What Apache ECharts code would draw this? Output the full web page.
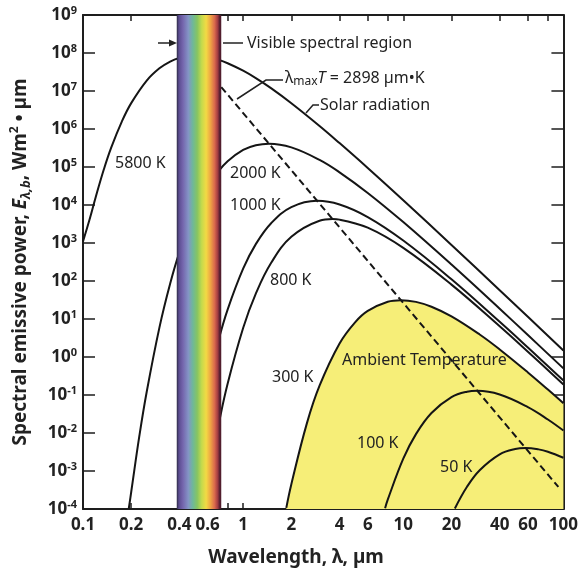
<!DOCTYPE html>
<html><head><meta charset="utf-8">
<script src="https://cdn.jsdelivr.net/npm/echarts@6/dist/echarts.min.js"></script>
<style>html,body{margin:0;padding:0;background:#fff}#c{width:581px;height:575px}</style>
</head><body><div id="c"></div>
<script>
// ---- data (wavelength in µm, spectral emissive power in W/m²·µm) ----
const xLabelValues = [0.1, 0.2, 0.4, 0.6, 1, 2, 4, 6, 10, 20, 40, 60, 100];
const xTickValues = [0.2, 0.4, 0.6, 0.8, 1, 2, 4, 6, 8, 10, 20, 40, 60, 80];
const yTickValues = [1e-4, 1e-3, 1e-2, 1e-1, 1, 1e1, 1e2, 1e3, 1e4, 1e5, 1e6, 1e7, 1e8, 1e9];
const visibleBand = [0.385, 0.73];
const curve5800K = [[0.1,1.1e3],[0.11,4.2e3],[0.12,1.6e4],[0.135,8.7e4],[0.15,3.24e5],[0.175,1.59e6],[0.2,4.8e6],[0.25,1.88e7],[0.3,3.95e7],[0.35,5.96e7],[0.4,7.42e7],[0.5,8.44e7],[0.6,7.83e7],[0.7,6.63e7],[0.8,5.38e7],[1,3.42e7],[1.2,2.18e7],[1.5,1.17e7],[2,4.76e6],[3,1.2e6],[4,4.25e5],[6,9.4e4],[10,1.33e4],[20,886],[40,57.1],[60,11.4],[100,1.49]];
const curve2000K = [[0.193,1.0e-4],[0.2,2.8e-4],[0.225,8.5e-3],[0.25,0.122],[0.3,5.93],[0.35,84.4],[0.4,565],[0.5,6.76e3],[0.6,2.99e4],[0.7,7.66e4],[0.8,1.42e5],[1,2.81e5],[1.2,3.75e5],[1.45,4.12e5],[2,3.29e5],[3,1.54e5],[4,7.25e4],[6,2.08e4],[10,3.55e3],[20,270],[40,18.6],[60,3.78],[100,0.502]];
const curve1000K = [[0.44,1.4e-4],[0.5,3.81e-3],[0.6,0.185],[0.7,2.64],[0.8,17.7],[1,211],[1.2,933],[1.5,3.36e3],[2,8.78e3],[2.9,1.29e4],[4,1.03e4],[6,4.81e3],[10,1.16e3],[20,111],[40,8.44],[60,1.78],[100,0.242]];
const curve800K = [[0.6,4.62e-4],[0.65,3.1e-3],[0.7,0.0155],[0.8,0.197],[1,5.78],[1.2,46.5],[1.5,306],[2,1.45e3],[3,3.84e3],[3.62,4.25e3],[4,4.12e3],[6,2.53e3],[10,743],[20,80.2],[40,6.44],[60,1.38],[100,0.19]];
const curve300K = [[1.86,1.07e-4],[2,4.5e-4],[2.5,0.0179],[3,0.176],[4,2.27],[5,8.17],[6,16.3],[8,28.5],[9.66,31.3],[12,28.2],[15,21.0],[20,11.7],[30,3.9],[40,1.58],[60,0.393],[80,0.139],[100,0.0607]];
const curve100K = [[7.7,1.05e-4],[8,1.77e-4],[10,2.11e-3],[12,9.33e-3],[15,0.0336],[20,0.0878],[25,0.122],[29,0.129],[40,0.103],[60,0.0481],[80,0.0227],[100,0.0116]];
const curve50K = [[21,1.03e-4],[25,3.84e-4],[30,1.05e-3],[40,2.75e-3],[50,3.8e-3],[58,4.02e-3],[70,3.71e-3],[80,3.22e-3],[100,2.23e-3]];
const wienLine = [[0.73,1.27e7],[93,3.8e-4]];

const FONT = '"Noto Sans", "DejaVu Sans", sans-serif';
const INK = '#1e1e1e';
const chart = echarts.init(document.getElementById('c'), null, {renderer: 'canvas'});

function curve(name, data, extra) {
  return Object.assign({
    name, type: 'line', data, smooth: 0.4, symbol: 'none', z: 3,
    lineStyle: {color: '#151515', width: 2}, silent: true, animation: false
  }, extra || {});
}

const bandColors = [
  [0.00, '#2c2a44'], [0.05, '#5b4c90'], [0.14, '#7566ae'], [0.26, '#8494c6'],
  [0.36, '#6eb89a'], [0.46, '#86c462'], [0.56, '#c4da4c'], [0.66, '#f2da44'],
  [0.76, '#eea444'], [0.85, '#da6a4c'], [0.92, '#a23c42'], [0.96, '#5c2232'], [1.00, '#4a1a2a']
];

const option = {
  animation: false,
  backgroundColor: '#fff',
  grid: {left: 83, right: 13, top: 15, bottom: 66},
  xAxis: [{
    type: 'log', logBase: 10, min: 0.1, max: 100, position: 'bottom',
    axisLine: {show: true, onZero: false, lineStyle: {color: INK, width: 2}},
    axisTick: {show: true, inside: true, length: 6, customValues: xTickValues, lineStyle: {color: INK, width: 1.5}},
    minorTick: {show: false},
    axisLabel: {customValues: xLabelValues, formatter: v => String(v), margin: 8,
      fontSize: 17, fontWeight: 'bold', fontFamily: FONT, color: '#222'},
    splitLine: {show: false}
  }, {
    type: 'log', logBase: 10, min: 0.1, max: 100, position: 'top',
    axisLine: {show: true, onZero: false, lineStyle: {color: INK, width: 2}},
    axisTick: {show: true, inside: true, length: 6, customValues: xTickValues, lineStyle: {color: INK, width: 1.5}},
    axisLabel: {show: false}, splitLine: {show: false}
  }],
  yAxis: [{
    type: 'log', logBase: 10, min: 1e-4, max: 1e9, position: 'left',
    axisLine: {show: true, onZero: false, lineStyle: {color: INK, width: 2}},
    axisTick: {show: true, inside: true, length: 12, customValues: yTickValues, lineStyle: {color: INK, width: 1.5}},
    axisLabel: {
      customValues: yTickValues, margin: 6,
      formatter: v => '{b|10}{s|' + Math.round(Math.log10(v)) + '}',
      rich: {
        b: {fontSize: 17, fontWeight: 'bold', fontFamily: FONT, color: '#222', lineHeight: 20},
        s: {fontSize: 11, fontWeight: 'bold', fontFamily: FONT, color: '#222', lineHeight: 13, verticalAlign: 'top'}
      }
    },
    splitLine: {show: false}
  }, {
    type: 'log', logBase: 10, min: 1e-4, max: 1e9, position: 'right',
    axisLine: {show: true, onZero: false, lineStyle: {color: INK, width: 2}},
    axisTick: {show: true, inside: true, length: 12, customValues: yTickValues, lineStyle: {color: INK, width: 1.5}},
    axisLabel: {show: false}, splitLine: {show: false}
  }],
  series: [
    curve('300 K', curve300K, {z: 2, areaStyle: {color: '#f6ee78', opacity: 1, origin: 'start'}}),
    curve('5800 K', curve5800K),
    curve('2000 K', curve2000K),
    curve('1000 K', curve1000K),
    curve('800 K', curve800K),
    curve('100 K', curve100K),
    curve('50 K', curve50K),
    {name: 'Wien', type: 'line', data: wienLine, symbol: 'none', z: 3, silent: true,
     lineStyle: {color: '#151515', width: 2, type: [7, 4]}},
    {
      name: 'Visible', type: 'custom', z: 5, silent: true,
      data: [visibleBand], encode: {x: [0, 1]},
      renderItem(params, api) {
        const x0 = api.coord([api.value(0), 1])[0];
        const x1 = api.coord([api.value(1), 1])[0];
        const cs = params.coordSys;
        return {
          type: 'rect',
          shape: {x: x0, y: cs.y, width: x1 - x0, height: cs.height},
          style: {fill: new echarts.graphic.LinearGradient(0, 0, 1, 0,
            bandColors.map(c => ({offset: c[0], color: c[1]})))}
        };
      }
    }
  ],
  graphic: [
    {type: 'line', shape: {x1: 158, y1: 43, x2: 171, y2: 43}, style: {stroke: '#222', lineWidth: 1.5}, z: 10},
    {type: 'polygon', shape: {points: [[177, 43], [169, 39.5], [169, 46.5]]}, style: {fill: '#222'}, z: 10},
    {type: 'line', shape: {x1: 223, y1: 43, x2: 243, y2: 43}, style: {stroke: '#222', lineWidth: 1.5}, z: 10},
    {type: 'polyline', shape: {points: [[237, 99], [266, 80], [283, 80]]}, style: {stroke: '#222', lineWidth: 1.5, fill: null}, z: 10},
    {type: 'polyline', shape: {points: [[306, 113], [313, 105], [319, 105]]}, style: {stroke: '#222', lineWidth: 1.5, fill: null}, z: 10},
    {type: 'text', x: 247, y: 43, z: 10, style: {text: 'Visible spectral region', fontSize: 16, fontFamily: FONT, fill: '#222', verticalAlign: 'middle'}},
    {type: 'text', x: 285, y: 78, z: 10, style: {
      text: '{n|λ}{sub|max}{it|T}{n| = 2898 µm•K}', verticalAlign: 'middle', fill: '#222',
      rich: {
        n: {fontSize: 16, fontFamily: FONT, color: '#222', lineHeight: 20},
        sub: {fontSize: 12, fontFamily: FONT, color: '#222', lineHeight: 12, verticalAlign: 'bottom'},
        it: {fontSize: 16, fontFamily: FONT, fontStyle: 'italic', color: '#222', lineHeight: 20}
      }}},
    {type: 'text', x: 320, y: 105, z: 10, style: {text: 'Solar radiation', fontSize: 16, fontFamily: FONT, fill: '#222', verticalAlign: 'middle'}},
    {type: 'text', x: 115, y: 163, z: 10, style: {text: '5800 K', fontSize: 16, fontFamily: FONT, fill: '#222', verticalAlign: 'middle'}},
    {type: 'text', x: 230, y: 173, z: 10, style: {text: '2000 K', fontSize: 16, fontFamily: FONT, fill: '#222', verticalAlign: 'middle'}},
    {type: 'text', x: 230, y: 205, z: 10, style: {text: '1000 K', fontSize: 16, fontFamily: FONT, fill: '#222', verticalAlign: 'middle'}},
    {type: 'text', x: 270, y: 280, z: 10, style: {text: '800 K', fontSize: 16, fontFamily: FONT, fill: '#222', verticalAlign: 'middle'}},
    {type: 'text', x: 272, y: 377, z: 10, style: {text: '300 K', fontSize: 16, fontFamily: FONT, fill: '#222', verticalAlign: 'middle'}},
    {type: 'text', x: 342, y: 360, z: 10, style: {text: 'Ambient Temperature', fontSize: 16, fontFamily: FONT, fill: '#222', verticalAlign: 'middle'}},
    {type: 'text', x: 357, y: 443, z: 10, style: {text: '100 K', fontSize: 16, fontFamily: FONT, fill: '#222', verticalAlign: 'middle'}},
    {type: 'text', x: 440, y: 467, z: 10, style: {text: '50 K', fontSize: 16, fontFamily: FONT, fill: '#222', verticalAlign: 'middle'}},
    {type: 'text', x: 296, y: 558, z: 10, style: {text: 'Wavelength, λ, µm', fontSize: 19, fontWeight: 'bold', fontFamily: FONT, fill: '#222', align: 'center', verticalAlign: 'middle'}},
    {type: 'text', x: 21, y: 262, rotation: Math.PI / 2, z: 10, style: {
      text: 'Spectral emissive power, {it|E}{sub|λ,b}, Wm{sup|2} • µm',
      fontSize: 19, fontWeight: 'bold', fontFamily: FONT, fill: '#222', align: 'center', verticalAlign: 'middle',
      rich: {
        it: {fontSize: 19, fontWeight: 'bold', fontStyle: 'italic', fontFamily: FONT, color: '#222', lineHeight: 24},
        sub: {fontSize: 13, fontWeight: 'bold', fontStyle: 'italic', fontFamily: FONT, color: '#222', lineHeight: 14, verticalAlign: 'bottom'},
        sup: {fontSize: 12, fontWeight: 'bold', fontFamily: FONT, color: '#222', lineHeight: 14, verticalAlign: 'top'}
      }}}
  ]
};
chart.setOption(option);
</script>
</body></html>
